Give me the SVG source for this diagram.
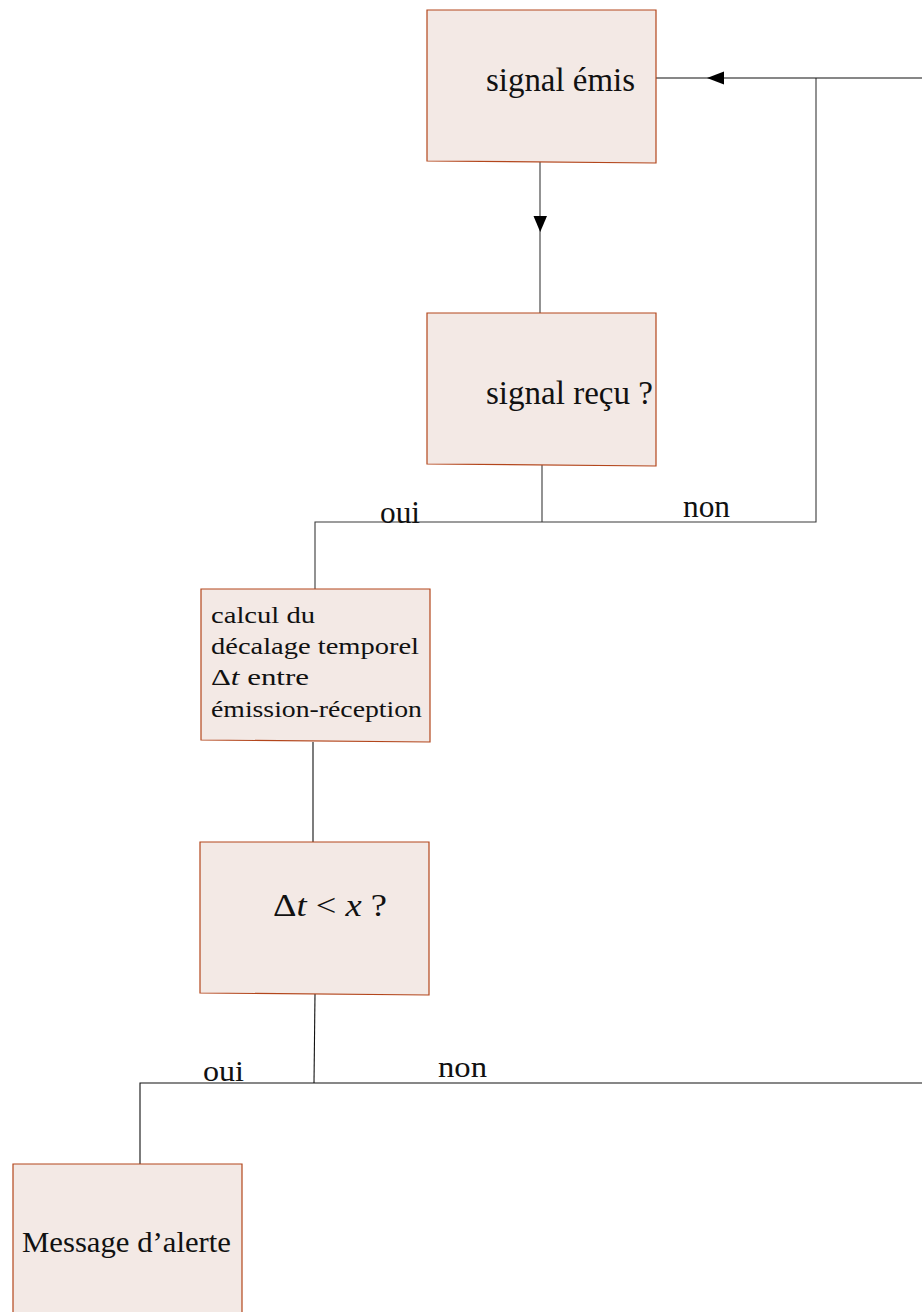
<svg xmlns="http://www.w3.org/2000/svg" width="922" height="1312" viewBox="0 0 922 1312">
  <defs>
    <style>
      .box { fill: #f3e9e5; stroke: #b3461c; stroke-width: 1.2; }
      .wire { fill: none; stroke: #3a3a3a; stroke-width: 1.1; }
      .wire-dark { fill: none; stroke: #111; stroke-width: 1.1; }
      .lbl { font-family: "Liberation Serif", "DejaVu Serif", serif; fill: #111; }
      .math { font-style: italic; }
    </style>
  </defs>
  <rect width="922" height="1312" fill="#fff"/>

  <g id="connectors">
    <!-- emitted to received -->
    <line class="wire" x1="540" y1="162" x2="540" y2="313"/>
    <polygon points="533.5,216 547,216 540.2,232" fill="#000"/>
    <!-- received branch -->
    <polyline class="wire" points="542,465 542,522"/>
    <polyline class="wire" points="315,589 315,522 816,522 816,78"/>
    <line class="wire-dark" x1="656" y1="78" x2="922" y2="78"/>
    <polygon points="707,78 724,71.5 724,84.5" fill="#000"/>
    <!-- computation to test -->
    <line class="wire-dark" x1="313" y1="742" x2="313" y2="842"/>
    <!-- test branch -->
    <line class="wire-dark" x1="315" y1="994" x2="314" y2="1083"/>
    <polyline class="wire-dark" points="140,1164 140,1083 922,1083"/>
    <text class="lbl" x="380" y="523" font-size="32" textLength="40" lengthAdjust="spacingAndGlyphs">oui</text>
    <text class="lbl" x="683" y="517" font-size="32" textLength="47" lengthAdjust="spacingAndGlyphs">non</text>
    <text class="lbl" x="203" y="1081" font-size="30" textLength="41" lengthAdjust="spacingAndGlyphs">oui</text>
    <text class="lbl" x="438" y="1077" font-size="30" textLength="49" lengthAdjust="spacingAndGlyphs">non</text>
  </g>

  <g id="node-emis">
    <polygon class="box" points="427,10 656,10 656,163 427,161"/>
    <text class="lbl" x="486" y="90.5" font-size="33" textLength="149" lengthAdjust="spacingAndGlyphs">signal émis</text>
  </g>

  <g id="node-recu">
    <polygon class="box" points="427,313 656,313 656,466 427,464"/>
    <text class="lbl" x="486" y="403.5" font-size="33" textLength="167" lengthAdjust="spacingAndGlyphs">signal reçu ?</text>
  </g>

  <g id="node-calcul">
    <polygon class="box" points="201,589 430,589 430,742 201,740"/>
    <text class="lbl" x="211" y="622.5" font-size="24" textLength="104" lengthAdjust="spacingAndGlyphs">calcul du</text>
    <text class="lbl" x="211" y="653.5" font-size="24" textLength="208" lengthAdjust="spacingAndGlyphs">décalage temporel</text>
    <text class="lbl" x="211" y="684.5" font-size="24" textLength="98" lengthAdjust="spacingAndGlyphs">Δ<tspan class="math">t</tspan> entre</text>
    <text class="lbl" x="211" y="716.5" font-size="24" textLength="211" lengthAdjust="spacingAndGlyphs">émission-réception</text>
  </g>

  <g id="node-test">
    <polygon class="box" points="200,842 429,842 429,995 200,993"/>
    <text class="lbl" x="273" y="916" font-size="31" textLength="114" lengthAdjust="spacingAndGlyphs">Δ<tspan class="math">t</tspan> &lt; <tspan class="math">x</tspan> ?</text>
  </g>

  <g id="node-alerte">
    <polygon class="box" points="13,1164 242,1164 242,1313 13,1313"/>
    <text class="lbl" x="22" y="1252" font-size="29" textLength="209" lengthAdjust="spacingAndGlyphs">Message d’alerte</text>
  </g>
</svg>
